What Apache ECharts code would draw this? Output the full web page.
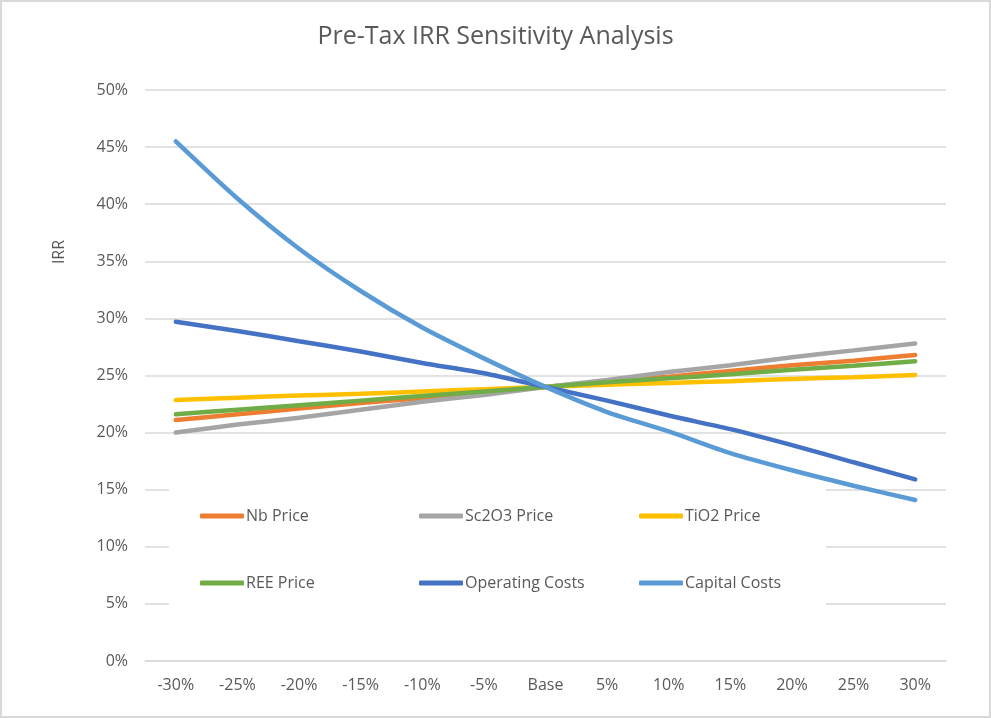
<!DOCTYPE html>
<html>
<head>
<meta charset="utf-8">
<script src="https://cdn.jsdelivr.net/npm/echarts@6/dist/echarts.min.js"></script>
<style>
html,body{margin:0;padding:0;background:#fff;}
#c{width:991px;height:718px;}
</style>
</head>
<body>
<div id="c"></div>
<script>
var categories = ['-30%','-25%','-20%','-15%','-10%','-5%','Base','5%','10%','15%','20%','25%','30%'];
var nbPrice        = [21.1, 21.6, 22.1, 22.6, 23.0, 23.5, 24.0, 24.5, 24.9, 25.4, 25.9, 26.3, 26.8];
var sc2o3Price     = [20.0, 20.7, 21.3, 22.0, 22.7, 23.3, 24.0, 24.6, 25.3, 25.9, 26.6, 27.2, 27.8];
var tio2Price      = [22.85, 23.05, 23.25, 23.4, 23.6, 23.8, 24.0, 24.2, 24.35, 24.5, 24.7, 24.85, 25.05];
var reePrice       = [21.6, 22.0, 22.4, 22.8, 23.2, 23.6, 24.0, 24.4, 24.75, 25.1, 25.5, 25.85, 26.25];
var operatingCosts = [29.7, 28.9, 28.0, 27.1, 26.1, 25.2, 24.0, 22.8, 21.5, 20.3, 18.9, 17.4, 15.9];
var capitalCosts   = [45.5, 40.5, 36.1, 32.4, 29.2, 26.5, 24.0, 21.8, 20.1, 18.2, 16.7, 15.35, 14.1];
var seriesNames = ['Nb Price','Sc2O3 Price','TiO2 Price','REE Price','Operating Costs','Capital Costs'];
var seriesData = [nbPrice, sc2o3Price, tio2Price, reePrice, operatingCosts, capitalCosts];
var colors = ['#ED7D31','#A5A5A5','#FFC000','#70AD47','#4472C4','#5B9BD5'];

var FONT = 'Open Sans';
var chart = echarts.init(document.getElementById('c'));

function mkLegend(names, left){
  return {
    show: true,
    data: names, orient: 'vertical', left: left, top: 503,
    icon: 'roundRect',
    itemWidth: 44, itemHeight: 5, itemGap: 51,
    textStyle: {color:'#595959', fontSize: 16, fontFamily: FONT, padding:[0,0,0,-3]},
    selectedMode: false
  };
}

var series = seriesNames.map(function(n, i){
  return {
    name: n, type: 'line', data: seriesData[i],
    smooth: 0.25, symbol: 'none', showSymbol: false, z: 3,
    lineStyle: {color: colors[i], width: 4.5, cap: 'round'},
    itemStyle: {color: colors[i]}
  };
});

chart.setOption({
  animation: false,
  color: colors,
  title: {
    text: 'Pre-Tax IRR Sensitivity Analysis', left: 'center', top: 19,
    textStyle: {color:'#595959', fontSize: 25, fontWeight: 'normal', fontFamily: FONT}
  },
  grid: {left: 145, right: 45, top: 90, bottom: 57},
  legend: [
    mkLegend(['Nb Price','REE Price'], 195),
    mkLegend(['Sc2O3 Price','Operating Costs'], 414),
    mkLegend(['TiO2 Price','Capital Costs'], 634)
  ],
  graphic: [
    {type:'rect', shape:{x:1, y:1, width:989, height:716}, style:{fill:'none', stroke:'#D9D9D9', lineWidth:2}, z: 0, silent:true},
    {type:'rect', shape:{x:169, y:486, width:657, height:120}, style:{fill:'#fff'}, z: 1, silent:true},
    {type:'text', x: 59, y: 252, rotation: Math.PI/2,
     style:{text:'IRR', fill:'#595959', fontSize:16, fontFamily: FONT, align:'center', verticalAlign:'middle'}}
  ],
  xAxis: {
    type: 'category', data: categories, boundaryGap: true,
    axisLine: {lineStyle:{color:'#D9D9D9', width: 1.5}},
    axisTick: {show:false},
    axisLabel: {color:'#595959', fontSize: 16, fontFamily: FONT, margin: 16}
  },
  yAxis: {
    type: 'value', min: 0, max: 50, interval: 5,
    axisLine: {show:false}, axisTick:{show:false},
    axisLabel: {color:'#595959', fontSize: 16, fontFamily: FONT, margin: 17, formatter: '{value}%'},
    splitLine: {lineStyle:{color:'#D9D9D9', width: 1.5}}
  },
  series: series
});
</script>
</body>
</html>
